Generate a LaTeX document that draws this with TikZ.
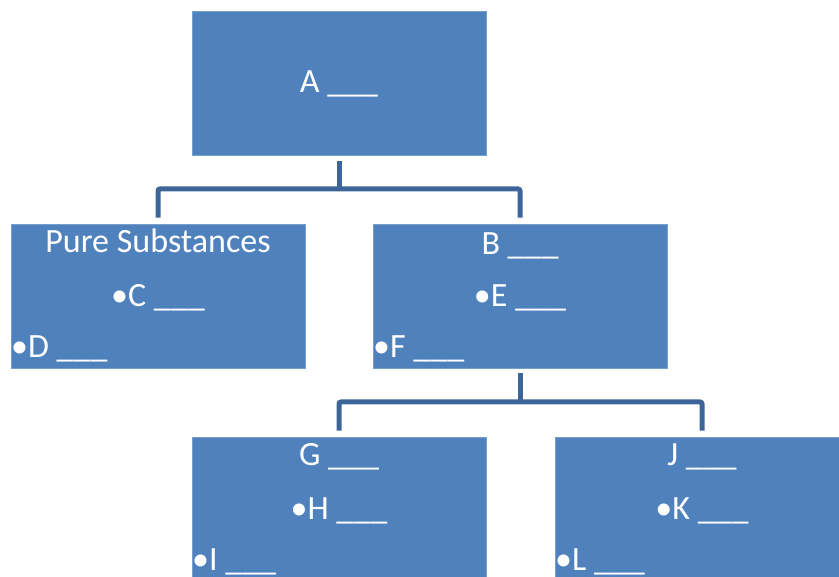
\documentclass[tikz,border=0pt]{standalone}
\usepackage{fontspec}
\setmainfont{Carlito}
\definecolor{boxblue}{RGB}{79,129,189}
\definecolor{boxedge}{RGB}{118,158,206}
\definecolor{linkblue}{RGB}{62,101,152}
\begin{document}
\begin{tikzpicture}[x=1pt,y=-1pt,
  box/.style={rectangle,fill=boxblue,draw=boxedge,line width=0.8pt,minimum width=294pt,minimum height=144pt,inner sep=0pt},
  txt/.style={inner sep=0pt,text=white,font=\fontsize{34}{40}\selectfont,anchor=base},
  ltxt/.style={txt,anchor=base west},
  conn/.style={draw=linkblue,line width=5pt,rounded corners=2pt}]
\useasboundingbox (0,0) rectangle (839,577);
\begin{scope}
\clip (0,0) rectangle (839,577);
\node[box] (A) at (339,83) {};
\node[box] (PS) at (158,296) {};
\node[box] (B) at (520,296) {};
\node[box] (G) at (339,509) {};
\node[box] (J) at (702,509) {};
\end{scope}
% texts
\node[txt] (tA) at (339,93) {A \_\_\_};
\node[txt] (tPS) at (158,253) {Pure Substances};
\node[txt] (tC) at (158,307) {•C \_\_\_};
\node[ltxt] (tD) at (11,358) {•D \_\_\_};
\node[txt] (tB) at (520,255) {B \_\_\_};
\node[txt] (tE) at (520,307) {•E \_\_\_};
\node[ltxt] (tF) at (373,358) {•F \_\_\_};
\node[txt] (tG) at (339,466) {G \_\_\_};
\node[txt] (tH) at (339,520) {•H \_\_\_};
\node[ltxt] (tI) at (192,570) {•I \_\_\_};
\node[txt] (tJ) at (702,466) {J \_\_\_};
\node[txt] (tK) at (702,520) {•K \_\_\_};
\node[ltxt] (tL) at (555,570) {•L \_\_\_};
% connectors
\coordinate (a1) at (339,189);
\coordinate (b1) at (520,402);
\draw[conn] ([yshift=-6pt]A.south) -- (a1);
\draw[conn] (a1) -| ([yshift=6pt]PS.north);
\draw[conn] (a1) -| ([yshift=6pt]B.north);
\draw[conn] ([yshift=-5pt]B.south) -- (b1);
\draw[conn] (b1) -| ([yshift=6pt]G.north);
\draw[conn] (b1) -| ([yshift=6pt]J.north);
\end{tikzpicture}
\end{document}
